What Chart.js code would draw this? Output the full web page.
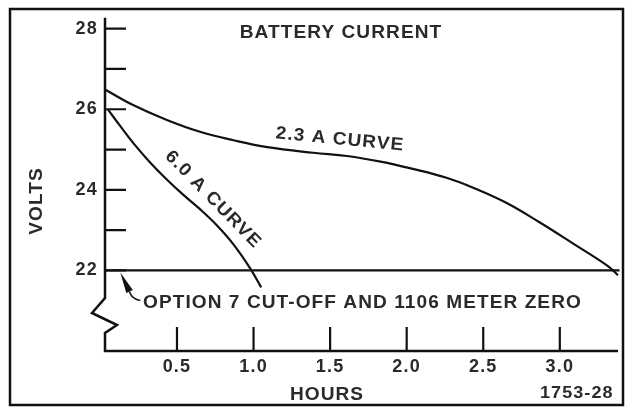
<!DOCTYPE html>
<html>
<head>
<meta charset="utf-8">
<script src="https://cdn.jsdelivr.net/npm/chart.js@4.4.0/dist/chart.umd.min.js"></script>
<style>
  html, body { margin: 0; padding: 0; background: #fff; }
  #wrap { width: 625px; height: 407px; }
</style>
</head>
<body>
<div id="wrap"><canvas id="batteryChart" width="625" height="407"></canvas></div>
<script>
// discharge curves (hours, volts)
const hours23 = [0.03, 0.21, 0.43, 0.65, 0.87, 1.09, 1.39, 1.61, 1.83, 2.04, 2.26, 2.43, 2.65, 2.87, 3.09, 3.31, 3.38];
const volts23 = [26.49, 26.11, 25.74, 25.44, 25.23, 25.06, 24.92, 24.84, 24.70, 24.52, 24.30, 24.06, 23.68, 23.19, 22.66, 22.12, 21.88];
const hours60 = [0.05, 0.13, 0.215, 0.32, 0.43, 0.54, 0.65, 0.76, 0.87, 0.98, 1.05];
const volts60 = [25.99, 25.58, 25.16, 24.70, 24.27, 23.88, 23.52, 23.12, 22.64, 22.04, 21.58];

const cutOffVolts = 22;
const hourTicks = [0.5, 1.0, 1.5, 2.0, 2.5, 3.0];
const voltTicks = [22, 23, 24, 25, 26, 27, 28];
const voltLabels = [22, 24, 26, 28];
const hourRange = [0.03, 3.38];
const voltRange = [20, 28.27];
const arrowHour = 0.13;

const ink = '#111';
const textInk = '#2a2a2a';
const fontFamily = '"Liberation Sans", Arial, Helvetica, sans-serif';

function toPoints(xs, ys) {
    return xs.map((h, i) => ({ x: h, y: ys[i] }));
}

// lettering on the original is wider than Liberation Sans, so stretch it a bit
function drawText(ctx, str, x, y, angle, align, baseline) {
    ctx.save();
    ctx.translate(x, y);
    ctx.rotate(angle * Math.PI / 180);
    ctx.scale(1.06, 1);
    ctx.textAlign = align || 'left';
    ctx.textBaseline = baseline || 'alphabetic';
    ctx.fillText(str, 0, 0);
    ctx.restore();
}

// frame, broken axis, inward ticks and the lettering
const paperPlugin = {
    id: 'paper',
    beforeDraw(chart) {
        const ctx = chart.ctx;
        ctx.save();
        ctx.fillStyle = '#fff';
        ctx.fillRect(0, 0, chart.width, chart.height);
        ctx.restore();
        ctx.letterSpacing = '1.2px';
    },
    afterDraw(chart) {
        const ctx = chart.ctx;
        const a = chart.chartArea;
        const x = chart.scales.x;
        const y = chart.scales.y;
        const bx = a.left;

        ctx.save();
        ctx.strokeStyle = ink;
        ctx.lineWidth = 2.5;

        // outer frame
        ctx.strokeRect(10, 9, 613, 396);

        // y axis with the zig-zag break, then x axis
        ctx.beginPath();
        ctx.moveTo(bx, a.top);
        ctx.lineTo(bx, a.bottom - 53);
        ctx.lineTo(bx - 13, a.bottom - 38);
        ctx.lineTo(bx + 12, a.bottom - 26);
        ctx.lineTo(bx, a.bottom - 18);
        ctx.lineTo(bx, a.bottom);
        ctx.lineTo(a.right, a.bottom);
        ctx.stroke();

        // tick marks pointing into the plot
        ctx.lineWidth = 2.2;
        ctx.beginPath();
        voltTicks.forEach(v => {
            const py = y.getPixelForValue(v);
            ctx.moveTo(bx, py);
            ctx.lineTo(bx + 21, py);
        });
        hourTicks.forEach(h => {
            const px = x.getPixelForValue(h);
            ctx.moveTo(px, a.bottom);
            ctx.lineTo(px, a.bottom - 24);
        });
        ctx.stroke();

        // arrow to the cut-off line
        const tipX = x.getPixelForValue(arrowHour);
        const tipY = y.getPixelForValue(cutOffVolts) + 2;
        const baseX = tipX + 9, baseY = tipY + 19;
        ctx.fillStyle = ink;
        ctx.beginPath();
        ctx.moveTo(tipX, tipY);
        ctx.lineTo(baseX + 3.5, baseY - 1.5);
        ctx.lineTo(baseX - 3, baseY + 1.5);
        ctx.closePath();
        ctx.fill();
        ctx.lineWidth = 1.6;
        ctx.beginPath();
        ctx.moveTo(baseX, baseY);
        ctx.quadraticCurveTo(baseX + 3, baseY + 8, baseX + 11, baseY + 9);
        ctx.stroke();

        // lettering
        ctx.letterSpacing = '1px';
        ctx.fillStyle = textInk;
        ctx.font = 'bold 18px ' + fontFamily;
        drawText(ctx, 'BATTERY CURRENT', 341, 38, 0, 'center');
        drawText(ctx, 'VOLTS', 42, 201, -90, 'center');
        drawText(ctx, 'HOURS', 327, 400, 0, 'center');
        drawText(ctx, 'OPTION 7 CUT-OFF AND 1106 METER ZERO', 143, 308, 0, 'left');
        drawText(ctx, '2.3 A CURVE', 340, 139.5, 5.5, 'center', 'middle');
        drawText(ctx, '6.0 A CURVE', 213, 199.5, 45.5, 'center', 'middle');
        ctx.font = 'bold 17px ' + fontFamily;
        drawText(ctx, '1753-28', 540, 398, 0, 'left');

        ctx.restore();
    }
};

Chart.defaults.font.family = fontFamily;
Chart.defaults.font.size = 18;
Chart.defaults.font.weight = 'bold';
Chart.defaults.color = textInk;

const lineStyle = {
    borderColor: ink,
    borderWidth: 2.2,
    pointRadius: 0,
    fill: false,
    tension: 0.4,
    clip: 6
};

new Chart(document.getElementById('batteryChart'), {
    type: 'line',
    data: {
        datasets: [
            Object.assign({ label: '2.3 A', data: toPoints(hours23, volts23) }, lineStyle),
            Object.assign({ label: '6.0 A', data: toPoints(hours60, volts60) }, lineStyle),
            Object.assign({ label: 'cut-off', data: toPoints([hourRange[0], hourRange[1] + 0.01], [cutOffVolts, cutOffVolts]) }, lineStyle)
        ]
    },
    options: {
        responsive: false,
        animation: false,
        events: [],
        layout: { padding: { top: 17, right: 7, bottom: 0, left: 0 } },
        plugins: {
            legend: { display: false },
            title: { display: false },
            tooltip: { enabled: false }
        },
        scales: {
            x: {
                type: 'linear',
                min: hourRange[0],
                max: hourRange[1],
                grid: { display: false, drawTicks: false },
                border: { display: false },
                afterBuildTicks: scale => { scale.ticks = hourTicks.map(v => ({ value: v })); },
                afterFit: scale => { scale.height = 56; },
                ticks: {
                    padding: 5,
                    maxRotation: 0,
                    callback: value => value.toFixed(1)
                }
            },
            y: {
                type: 'linear',
                min: voltRange[0],
                max: voltRange[1],
                grid: { display: false, drawTicks: false },
                border: { display: false },
                afterBuildTicks: scale => { scale.ticks = voltLabels.map(v => ({ value: v })); },
                afterFit: scale => { scale.width = 105; },
                ticks: {
                    padding: 7,
                    callback: value => String(value)
                }
            }
        }
    },
    plugins: [paperPlugin]
});
</script>
</body>
</html>
